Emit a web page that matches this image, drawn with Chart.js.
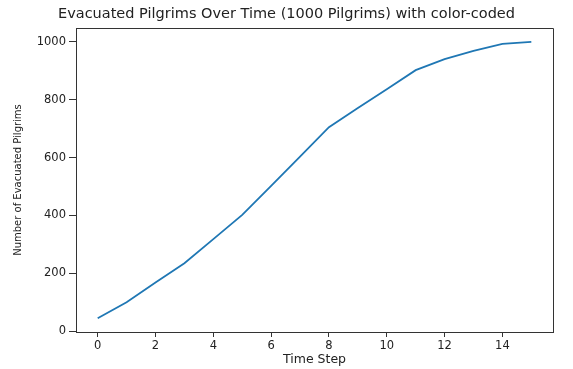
<!DOCTYPE html>
<html>
<head>
<meta charset="utf-8">
<script src="https://cdn.jsdelivr.net/npm/chart.js@4"></script>
<style>
  html, body { margin: 0; padding: 0; background: #fff; }
  canvas { display: block; }
</style>
</head>
<body>
<canvas id="evacChart" width="573" height="369"></canvas>
<script>
// Evacuated pilgrims per time step
const timeSteps = [0, 1, 2, 3, 4, 5, 6, 7, 8, 9, 10, 11, 12, 13, 14, 15];
const evacuated = [45, 100, 168, 235, 318, 402, 502, 603, 705, 771, 836, 902, 940, 969, 993, 1000];

// Tick labels
const xTicks = [0, 2, 4, 6, 8, 10, 12, 14];
const yTicks = [0, 200, 400, 600, 800, 1000];

const points = timeSteps.map((t, i) => ({ x: t, y: evacuated[i] }));

// draws the top and right sides of the axes box
const frameBox = {
    id: 'frameBox',
    afterDraw(chart) {
        const { ctx, chartArea: a } = chart;
        ctx.save();
        ctx.strokeStyle = '#333';
        ctx.lineWidth = 1;
        ctx.beginPath();
        ctx.moveTo(a.left, a.top + 0.5);
        ctx.lineTo(a.right + 0.5, a.top + 0.5);
        ctx.lineTo(a.right + 0.5, a.bottom);
        ctx.stroke();
        ctx.restore();
    }
};

const ctx = document.getElementById('evacChart').getContext('2d');
new Chart(ctx, {
    type: 'line',
    data: {
        datasets: [{
            data: points,
            borderColor: '#1f77b4',
            borderWidth: 1.8,
            pointRadius: 0,
            tension: 0,
            fill: false
        }]
    },
    options: {
        responsive: false,
        animation: false,
        layout: { padding: { top: 0, right: 20, bottom: 0, left: 20 } },
        scales: {
            x: {
                type: 'linear',
                min: -0.75,
                max: 15.75,
                afterBuildTicks: s => { s.ticks = xTicks.map(v => ({ value: v })); },
                afterFit: s => { s.height = 37; },
                grid: { drawOnChartArea: false, drawTicks: true, tickLength: 5, color: '#333' },
                border: { display: true, color: '#333' },
                ticks: {
                    color: '#222',
                    padding: 2,
                    maxRotation: 0,
                    callback: v => String(v),
                    font: { family: 'DejaVu Sans', size: 11.5 }
                },
                title: {
                    display: true,
                    text: 'Time Step',
                    color: '#222',
                    padding: { top: 0, bottom: 2 },
                    font: { family: 'DejaVu Sans', size: 12.5 }
                }
            },
            y: {
                min: -2.75,
                max: 1047.75,
                afterBuildTicks: s => { s.ticks = yTicks.map(v => ({ value: v })); },
                afterFit: s => { s.width = 56; },
                grid: { drawOnChartArea: false, drawTicks: true, tickLength: 7, color: '#333' },
                border: { display: true, color: '#333' },
                ticks: {
                    color: '#222',
                    padding: 3,
                    callback: v => String(v),
                    font: { family: 'DejaVu Sans', size: 11.5 }
                },
                title: {
                    display: true,
                    text: 'Number of Evacuated Pilgrims',
                    color: '#222',
                    padding: { top: -8, bottom: 0 },
                    font: { family: 'DejaVu Sans', size: 10 }
                }
            }
        },
        plugins: {
            legend: { display: false },
            tooltip: { enabled: false },
            title: {
                display: true,
                text: 'Evacuated Pilgrims Over Time (1000 Pilgrims) with color-coded',
                color: '#222',
                padding: { top: 6, bottom: 4.6 },
                font: { family: 'DejaVu Sans', size: 14.5, weight: 'normal' }
            }
        }
    },
    plugins: [frameBox]
});
</script>
</body>
</html>
